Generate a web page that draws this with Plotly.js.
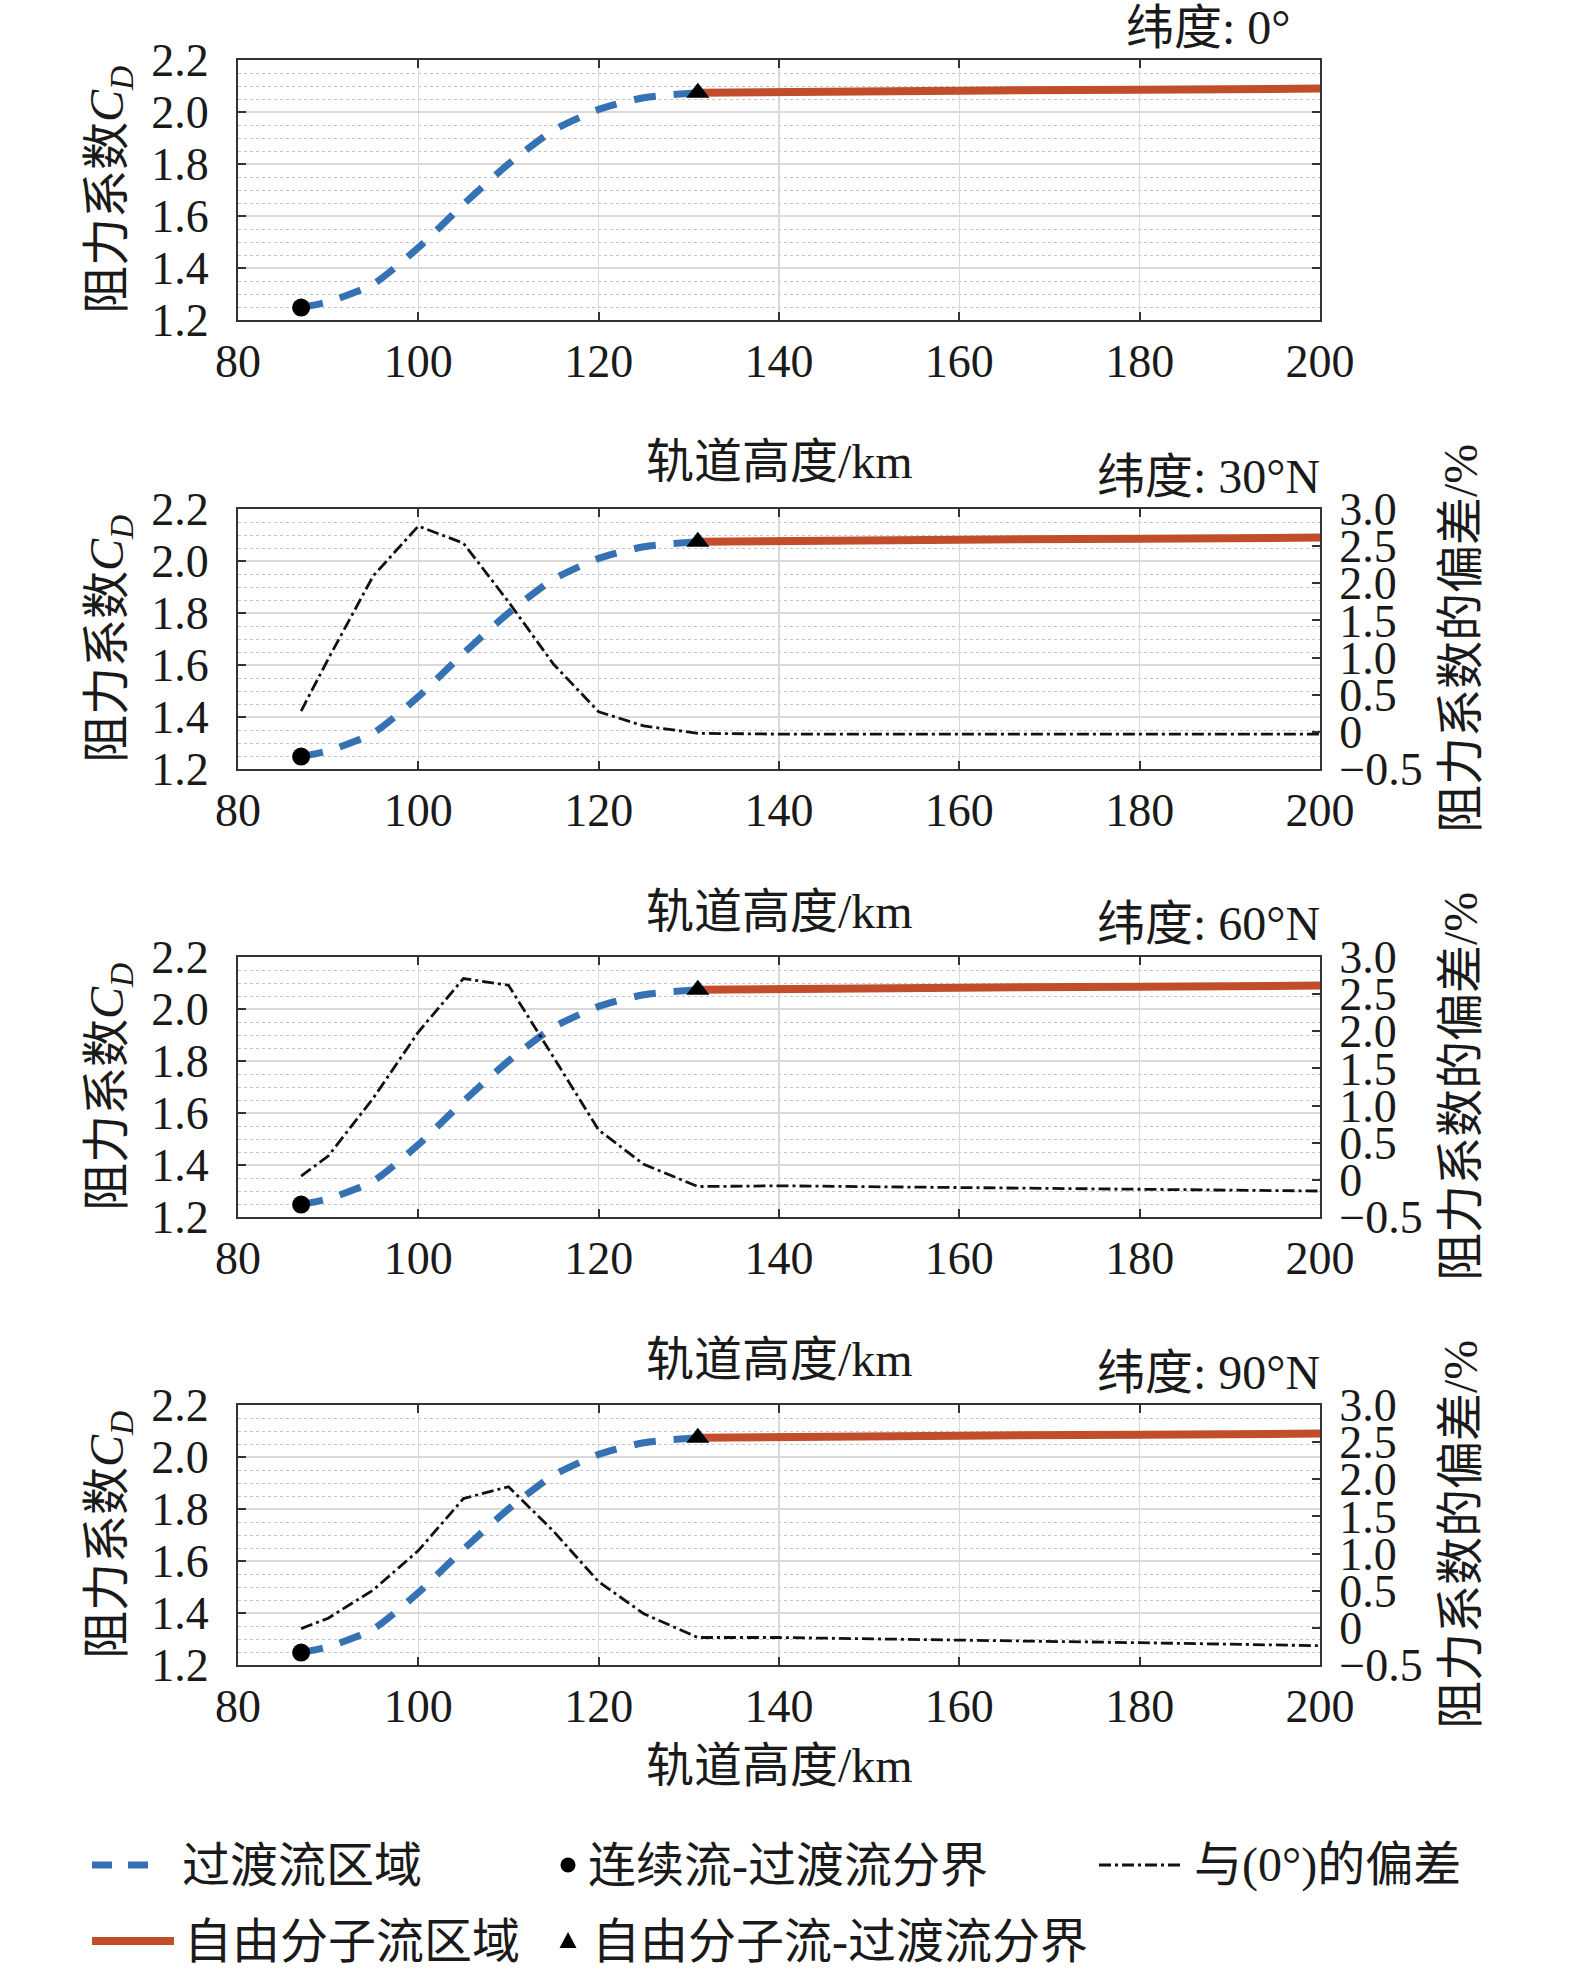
<!DOCTYPE html>
<html>
<head>
<meta charset="utf-8">
<script src="https://cdn.plot.ly/plotly-3.0.1.min.js"></script>
<style>
  html, body { margin: 0; padding: 0; background: #fff; }
</style>
</head>
<body>
<div id="chart" style="width:1575px;height:1969px"></div>
<script>
const W = 1575, H = 1969;

// altitude (km) and drag coefficient
const altTrans = [87, 90, 95, 100, 105, 110, 115, 120, 125, 131];
const cdTrans = [1.248, 1.270, 1.338, 1.478, 1.645, 1.800, 1.930, 2.010, 2.055, 2.074];
const altFree = [131, 140, 160, 180, 200];
const cdFree = [2.074, 2.078, 2.082, 2.086, 2.090];

// deviation from the 0 deg curve (%)
const altDev = [87, 90, 95, 100, 105, 110, 115, 120, 125, 131, 140, 160, 180, 200];
const dev30 = [0.28, 0.98, 2.10, 2.77, 2.54, 1.75, 0.91, 0.27, 0.08, -0.02, -0.03, -0.03, -0.03, -0.03];
const dev60 = [0.05, 0.32, 1.10, 1.99, 2.71, 2.62, 1.65, 0.67, 0.21, -0.09, -0.08, -0.10, -0.13, -0.15];
const dev90 = [-0.01, 0.13, 0.51, 1.04, 1.74, 1.90, 1.30, 0.62, 0.19, -0.13, -0.13, -0.16, -0.20, -0.24];

const panelTitles = ["纬度: 0°", "纬度: 30°N", "纬度: 60°N", "纬度: 90°N"];
const devSeries = [null, dev30, dev60, dev90];

const xTicks = [80, 100, 120, 140, 160, 180, 200];
const yTicks = [1.2, 1.4, 1.6, 1.8, 2.0, 2.2];
const yTickText = ["1.2", "1.4", "1.6", "1.8", "2.0", "2.2"];
const y2Ticks = [-0.5, 0, 0.5, 1.0, 1.5, 2.0, 2.5, 3.0];
const y2TickText = ["\u22120.5", "0", "0.5", "1.0", "1.5", "2.0", "2.5", "3.0"];

const BLUE = "#3572b3";
const RED = "#c24d2b";
const FONT = "Liberation Serif, Noto Sans CJK SC, serif";
const INK = "#1a1a1a";
const DEVDASH = "12px,4px,3px,4px";

// panel boxes in page pixels
const plotLeft = 238, plotRight = 1320;
const panelTop = [60, 509, 957, 1405];
const panelH = 260;

const px = v => v / W;
const py = v => 1 - v / H;

const data = [];
const layout = {
  width: W, height: H,
  margin: { l: 0, r: 0, t: 0, b: 0 },
  paper_bgcolor: "#fff",
  plot_bgcolor: "#fff",
  showlegend: false,
  font: { family: FONT, size: 46, color: INK },
  annotations: [],
  shapes: []
};

for (let i = 0; i < 4; i++) {
  const n = i + 1;
  const xa = n === 1 ? "x" : "x" + n;
  const ya = n === 1 ? "y" : "y" + n;
  const top = panelTop[i], bottom = top + panelH;

  layout["xaxis" + (n === 1 ? "" : n)] = {
    domain: [px(plotLeft), px(plotRight)],
    anchor: ya,
    range: [80, 200],
    tickvals: xTicks,
    ticks: "inside", ticklen: 8, tickwidth: 2, tickcolor: "#333",
    ticklabelstandoff: 0,
    showline: true, linecolor: "#333", linewidth: 2, mirror: "ticks",
    showgrid: true, gridcolor: "#d9d9d9", gridwidth: 1.5,
    zeroline: false,
    tickfont: { family: FONT, size: 46, color: INK },
    fixedrange: true
  };
  layout["yaxis" + (n === 1 ? "" : n)] = {
    domain: [py(bottom), py(top)],
    anchor: xa,
    range: [1.2, 2.2],
    tickvals: yTicks, ticktext: yTickText,
    ticks: "inside", ticklen: 8, tickwidth: 2, tickcolor: "#333",
    ticklabelstandoff: 18,
    showline: true, linecolor: "#333", linewidth: 2,
    mirror: n === 1 ? "ticks" : true,
    showgrid: true, gridcolor: "#d9d9d9", gridwidth: 1.5,
    minor: { dtick: 0.05, tick0: 1.2, showgrid: true, gridcolor: "#c4c4c4", griddash: "dot", gridwidth: 1, ticks: "" },
    zeroline: false,
    tickfont: { family: FONT, size: 46, color: INK },
    fixedrange: true
  };

  data.push({
    x: altTrans, y: cdTrans, xaxis: xa, yaxis: ya,
    type: "scatter", mode: "lines", name: "过渡流区域",
    line: { color: BLUE, width: 7, dash: "22px,18px", shape: "spline", smoothing: 0.6 }
  });
  data.push({
    x: altFree, y: cdFree, xaxis: xa, yaxis: ya,
    type: "scatter", mode: "lines", name: "自由分子流区域",
    line: { color: RED, width: 8 }
  });

  if (devSeries[i]) {
    const ra = "y" + (n + 3);
    layout["yaxis" + (n + 3)] = {
      overlaying: ya, side: "right", anchor: xa,
      range: [-0.5, 3.0],
      tickvals: y2Ticks, ticktext: y2TickText,
      ticks: "inside", ticklen: 8, tickwidth: 2, tickcolor: "#333",
      ticklabelstandoff: 8,
      showline: true, linecolor: "#333", linewidth: 2,
      showgrid: false, zeroline: false,
      tickfont: { family: FONT, size: 46, color: INK },
      fixedrange: true
    };
    data.push({
      x: altDev, y: devSeries[i], xaxis: xa, yaxis: ra,
      type: "scatter", mode: "lines", name: "与(0°)的偏差",
      line: { color: "#111", width: 2.8, dash: DEVDASH }
    });
    layout.annotations.push({
      xref: "paper", yref: "paper", x: px(1460), y: py(top + panelH / 2),
      text: "阻力系数的偏差/%", textangle: -90, showarrow: false,
      xanchor: "center", yanchor: "middle",
      font: { family: FONT, size: 48, color: INK }
    });
  }

  // boundary points taken from the ends of the transition curve
  data.push({
    x: [altTrans[0]], y: [cdTrans[0]], xaxis: xa, yaxis: ya,
    type: "scatter", mode: "markers", name: "连续流-过渡流分界",
    marker: { symbol: "circle", size: 18, color: "#000" }
  });
  data.push({
    x: [altTrans[altTrans.length - 1]], y: [cdTrans[cdTrans.length - 1]], xaxis: xa, yaxis: ya,
    type: "scatter", mode: "markers", name: "自由分子流-过渡流分界",
    marker: { symbol: "triangle-up", size: 20, color: "#000" }
  });

  layout.annotations.push({
    xref: "paper", yref: "paper", x: px(1208), y: py(top - 33),
    text: panelTitles[i], showarrow: false, xanchor: "center", yanchor: "middle",
    font: { family: FONT, size: 48, color: INK }
  });
  layout.annotations.push({
    xref: "paper", yref: "paper", x: px(110), y: py(top + panelH / 2),
    text: "阻力系数<i>C</i><sub><i>D</i></sub>", textangle: -90, showarrow: false,
    xanchor: "center", yanchor: "middle",
    font: { family: FONT, size: 48, color: INK }
  });
  layout.annotations.push({
    xref: "paper", yref: "paper", x: px(779), y: py(bottom + (n === 4 ? 100 : 142)),
    text: "轨道高度/km", showarrow: false, xanchor: "center", yanchor: "middle",
    font: { family: FONT, size: 48, color: INK }
  });
}

// legend drawn by hand: two rows, three columns
const row1 = 1865, row2 = 1941;
const legendText = [
  ["过渡流区域", 180, row1],
  ["连续流-过渡流分界", 586, row1],
  ["与(0°)的偏差", 1192, row1],
  ["自由分子流区域", 182, row2],
  ["自由分子流-过渡流分界", 590, row2]
];
legendText.forEach(([t, x, y]) => {
  layout.annotations.push({
    xref: "paper", yref: "paper", x: px(x), y: py(y),
    text: t, showarrow: false, xanchor: "left", yanchor: "middle",
    font: { family: FONT, size: 48, color: INK }
  });
});
layout.shapes.push(
  { type: "line", xref: "paper", yref: "paper", x0: px(92), x1: px(164), y0: py(row1), y1: py(row1),
    line: { color: BLUE, width: 7, dash: "20px,16px" } },
  { type: "line", xref: "paper", yref: "paper", x0: px(92), x1: px(174), y0: py(row2), y1: py(row2),
    line: { color: RED, width: 8 } },
  { type: "line", xref: "paper", yref: "paper", x0: px(1099), x1: px(1182), y0: py(row1), y1: py(row1),
    line: { color: "#111", width: 2.8, dash: DEVDASH } },
  { type: "circle", xref: "paper", yref: "paper", xsizemode: "pixel", ysizemode: "pixel",
    xanchor: px(568), yanchor: py(row1), x0: -7.5, x1: 7.5, y0: -7.5, y1: 7.5,
    fillcolor: "#000", line: { width: 0 } },
  { type: "path", xref: "paper", yref: "paper", xsizemode: "pixel", ysizemode: "pixel",
    xanchor: px(568), yanchor: py(row2), path: "M-8.5,-7 L8.5,-7 L0,9 Z",
    fillcolor: "#000", line: { width: 0 } }
);

Plotly.newPlot("chart", data, layout, { displayModeBar: false, staticPlot: true });
</script>
</body>
</html>
